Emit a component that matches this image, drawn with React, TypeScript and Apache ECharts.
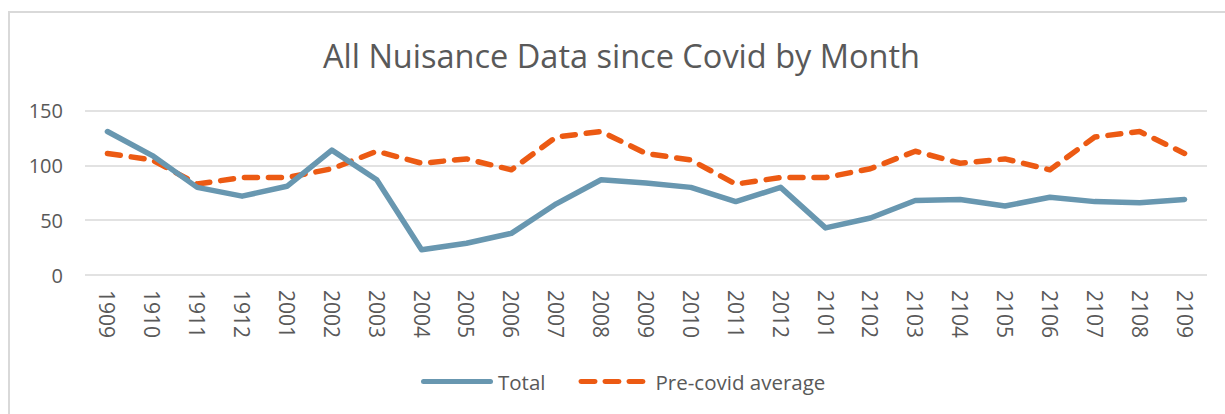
import React, { useEffect, useRef } from "react";
import * as echarts from "echarts";

const categories = [
  "1909", "1910", "1911", "1912", "2001", "2002", "2003", "2004", "2005",
  "2006", "2007", "2008", "2009", "2010", "2011", "2012", "2101", "2102",
  "2103", "2104", "2105", "2106", "2107", "2108", "2109",
];

const totalValues = [
  131, 109, 80, 72, 81, 114, 87, 23, 29, 38, 65, 87, 84, 80, 67, 80, 43, 52,
  68, 69, 63, 71, 67, 66, 69,
];

const preCovidValues = [
  111, 105, 83, 89, 89, 97, 113, 102, 106, 96, 126, 131, 111, 105, 83, 89, 89,
  97, 113, 102, 106, 96, 126, 131, 111,
];

const yTicks = { min: 0, max: 150, interval: 50 };

const FONT = "'Open Sans', sans-serif";
const GREY = "#595959";
const BLUE = "#6897b0";
const ORANGE = "#ec5a13";

const solidIcon =
  "path://M2.5,0 H69.5 A2.5,2.5 0 0 1 69.5,5 H2.5 A2.5,2.5 0 0 1 2.5,0 Z";
const dashIcon =
  "path://M2.5,0 H16.5 A2.5,2.5 0 0 1 16.5,5 H2.5 A2.5,2.5 0 0 1 2.5,0 Z " +
  "M26.5,0 H40.5 A2.5,2.5 0 0 1 40.5,5 H26.5 A2.5,2.5 0 0 1 26.5,0 Z " +
  "M50.5,0 H64.5 A2.5,2.5 0 0 1 64.5,5 H50.5 A2.5,2.5 0 0 1 50.5,0 Z " +
  "M72,0 H72.01 V5 H72 Z";

export default function App() {
  const ref = useRef<HTMLDivElement>(null);

  useEffect(() => {
    document.body.style.margin = "0";
    const chart = echarts.init(ref.current!, null, { renderer: "svg" });
    chart.setOption({
      animation: false,
      backgroundColor: "#ffffff",
      textStyle: { fontFamily: FONT, color: GREY },
      title: {
        text: "All Nuisance Data since Covid by Month",
        left: 318,
        top: 34,
        textStyle: {
          fontFamily: FONT,
          fontSize: 32.5,
          fontWeight: "normal",
          color: GREY,
        },
      },
      graphic: [
        {
          type: "rect",
          shape: { x: 9, y: 12, width: 1230, height: 420 },
          style: { fill: "none", stroke: "#d9d9d9", lineWidth: 2 },
          silent: true,
        },
      ],
      legend: {
        bottom: 17,
        left: 416,
        itemWidth: 72,
        itemHeight: 5,
        itemGap: 33,
        textStyle: { fontFamily: FONT, fontSize: 20.5, color: GREY },
        data: [
          { name: "Total", icon: solidIcon, itemStyle: { color: BLUE } },
          { name: "Pre-covid average", icon: dashIcon, itemStyle: { color: ORANGE } },
        ],
      },
      grid: { left: 85, right: 18, top: 110.7, bottom: 139 },
      xAxis: {
        type: "category",
        data: categories,
        boundaryGap: true,
        axisLine: { show: false },
        axisTick: { show: false },
        axisLabel: {
          rotate: -90,
          interval: 0,
          margin: 15,
          fontFamily: FONT,
          fontSize: 21,
          color: GREY,
        },
      },
      yAxis: {
        type: "value",
        min: yTicks.min,
        max: yTicks.max,
        interval: yTicks.interval,
        axisLine: { show: false },
        axisTick: { show: false },
        splitLine: { lineStyle: { color: "#d9d9d9", width: 1.5 } },
        axisLabel: {
          margin: 22,
          fontFamily: FONT,
          fontSize: 20,
          color: GREY,
        },
      },
      series: [
        {
          name: "Total",
          type: "line",
          data: totalValues,
          symbol: "none",
          showSymbol: false,
          lineStyle: { color: BLUE, width: 5.5, cap: "round", join: "round" },
          itemStyle: { color: BLUE },
          z: 3,
        },
        {
          name: "Pre-covid average",
          type: "line",
          data: preCovidValues,
          symbol: "none",
          showSymbol: false,
          lineStyle: {
            color: ORANGE,
            width: 5.5,
            type: [13, 11],
            cap: "round",
            join: "round",
          },
          itemStyle: { color: ORANGE },
          z: 2,
        },
      ],
    });
    return () => chart.dispose();
  }, []);

  return <div ref={ref} style={{ width: 1225, height: 414 }} />;
}
